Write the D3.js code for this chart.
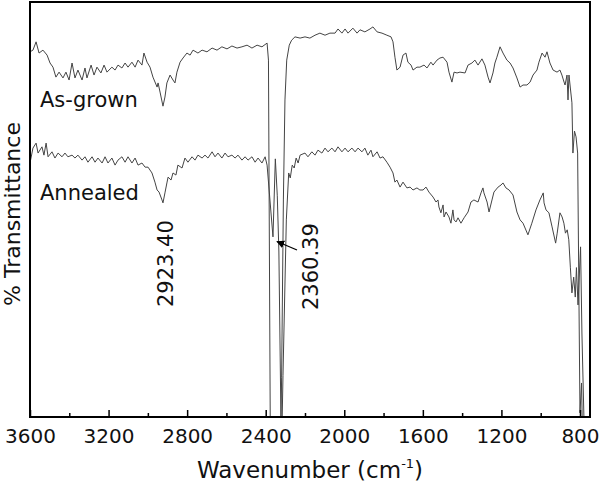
<!DOCTYPE html>
<html>
<head>
<meta charset="utf-8">
<script src="https://cdn.jsdelivr.net/npm/d3@7"></script>
<style>
  html, body { margin: 0; padding: 0; background: #fff; }
  svg { display: block; font-family: "DejaVu Sans", Verdana, sans-serif; }
</style>
</head>
<body>
<svg id="chart" width="600" height="485"></svg>
<script>
// ---------- data (wavenumber in cm^-1, % transmittance in arbitrary offset units) ----------
const asGrownWn = [3600,3585,3569,3554,3534,3513,3498,3483,3468,3452,3432,3417,3401,3386,3371,3356,3335,3320,3310,3289,3274,3259,3239,3223,3208,3183,3167,3152,3132,3116,3101,3081,3065,3050,3030,3020,3004,2989,2974,2953,2948,2938,2923,2913,2903,2887,2872,2862,2852,2836,2821,2801,2785,2770,2745,2724,2699,2673,2648,2623,2597,2572,2546,2521,2495,2470,2444,2419,2393,2386,2376,2350,2325,2319,2310,2302,2293,2280,2268,2251,2225,2200,2175,2149,2124,2098,2073,2047,2032,2012,1996,1981,1956,1935,1920,1895,1869,1854,1833,1808,1783,1762,1752,1742,1732,1716,1701,1686,1676,1660,1650,1630,1615,1594,1579,1559,1548,1528,1513,1497,1477,1467,1452,1441,1426,1411,1385,1370,1350,1335,1319,1299,1284,1268,1258,1243,1233,1223,1207,1192,1172,1156,1141,1121,1105,1090,1070,1054,1039,1019,1009,993,978,968,953,937,917,902,892,881,876,866,861,856,841,836,828,820,812,800,792,785,749];
const asGrownT = [88.0,88.4,90.4,87.7,88.4,87.2,85.3,84.3,81.9,83.1,81.7,83.1,81.2,85.3,81.7,83.6,81.2,84.1,81.7,84.8,82.4,84.3,82.9,84.8,83.1,84.3,83.6,84.8,84.1,85.3,84.3,85.5,84.3,86.0,84.8,87.7,85.5,84.3,81.9,79.5,80.5,78.3,74.9,77.1,80.5,82.4,81.2,80.5,83.1,85.5,86.5,87.7,87.2,88.4,87.7,88.4,88.0,88.9,88.4,89.2,88.7,89.4,88.9,89.2,89.6,88.9,89.6,89.2,90.1,86.0,-10,-30,-10,9.6,52.3,76.4,86.0,89.6,90.8,91.6,91.3,91.6,91.3,92.0,92.5,92.0,92.5,92.5,93.5,92.5,93.5,92.5,93.7,92.5,93.3,92.8,93.5,94.0,92.8,92.5,92.0,91.6,90.4,86.7,83.6,84.3,87.2,87.7,85.5,84.8,83.6,84.3,84.3,84.8,84.1,85.5,84.8,86.0,86.5,86.7,85.5,83.1,80.7,83.1,82.9,83.1,82.9,84.8,85.3,86.0,84.8,86.3,84.8,81.9,80.5,82.9,85.3,86.7,89.2,87.7,86.0,85.3,84.1,81.7,79.5,80.0,80.0,80.7,82.4,83.6,85.5,87.7,86.7,88.0,85.3,83.6,83.1,83.6,82.4,80.7,80.0,82.4,76.4,82.4,75.7,63.6,68.9,67.5,63.6,1.0,8.2,-10,-30];

const annealedWn = [3600,3585,3569,3559,3539,3529,3518,3508,3488,3473,3457,3437,3422,3407,3386,3371,3356,3335,3320,3305,3284,3269,3254,3233,3218,3203,3183,3167,3152,3132,3116,3101,3081,3065,3050,3030,3014,2999,2979,2964,2953,2943,2928,2923,2913,2903,2897,2882,2872,2857,2847,2826,2811,2796,2775,2760,2745,2724,2709,2694,2673,2658,2643,2623,2607,2592,2572,2556,2541,2521,2505,2490,2470,2454,2439,2419,2403,2393,2363,2351,2341,2333,2320,2312,2295,2283,2275,2265,2255,2245,2235,2225,2200,2185,2165,2149,2134,2114,2098,2083,2063,2047,2032,2012,1996,1981,1961,1945,1930,1910,1895,1880,1864,1854,1833,1818,1803,1783,1767,1752,1742,1732,1716,1701,1681,1665,1650,1630,1615,1599,1584,1569,1548,1533,1523,1518,1508,1497,1492,1482,1467,1457,1447,1441,1431,1421,1406,1390,1370,1355,1340,1319,1304,1294,1289,1273,1263,1248,1238,1217,1202,1192,1177,1161,1141,1121,1105,1090,1065,1045,1024,1004,987,983,973,958,942,924,916,902,891,882,874,865,857,849,841,832,824,818,810,797,790,780,770,749];
const annealedT = [61.2,64.8,66.0,63.6,65.1,63.1,66.0,62.7,63.9,62.4,63.6,62.7,63.6,62.7,63.1,62.4,63.1,61.9,62.7,61.4,62.7,61.4,62.4,61.2,62.7,61.2,62.4,60.7,61.9,62.7,61.4,62.7,61.2,62.4,60.7,61.2,60.2,60.2,58.8,56.6,54.7,54.2,52.3,51.6,54.0,56.4,57.8,57.1,58.8,58.3,60.7,60.0,62.4,61.4,62.7,61.9,63.1,62.4,63.1,62.4,63.9,62.7,63.6,62.4,63.6,62.7,63.1,62.4,63.1,61.9,62.7,61.9,62.7,61.4,62.4,61.2,62.7,60.7,43.4,62.2,53.3,40.0,-10,10.0,47.5,58.8,57.6,60.7,60.0,62.4,61.2,63.1,63.6,62.7,63.9,63.1,64.3,63.6,64.8,63.9,64.8,63.9,65.1,63.9,64.8,63.9,64.8,63.9,64.8,63.9,64.8,63.1,64.3,62.7,63.9,62.4,62.7,61.4,60.2,58.8,56.6,57.1,55.4,56.6,55.2,55.4,54.7,55.2,54.7,54.7,55.4,54.2,53.0,51.8,52.3,50.6,49.2,51.1,48.2,49.4,48.2,46.7,49.9,47.5,47.0,48.0,46.7,48.0,49.4,51.8,52.3,51.8,54.0,55.2,54.0,51.8,49.4,52.3,54.2,55.4,55.9,56.4,55.2,54.7,53.5,49.4,47.5,46.7,43.9,46.7,49.9,52.3,54.0,51.6,49.9,49.2,45.8,41.9,44.3,49.2,48.2,46.7,44.3,45.1,42.7,36.1,29.9,33.7,28.9,36.0,27.0,41.0,20.0,0,-20,-40];

const xTicks = [3600, 3200, 2800, 2400, 2000, 1600, 1200, 800];
const xMinorTicks = [3400, 3000, 2600, 2200, 1800, 1400, 1000];
const seriesLabels = ["As-grown", "Annealed"];
const peakLabels = ["2923.40", "2360.39"];

// ---------- layout ----------
const svg = d3.select("#chart");
const L = 30, R = 590, T = 2, B = 417;

const x = d3.scaleLinear().domain([3600, 749]).range([L, R]);
const y = d3.scaleLinear().domain([0, 100]).range([B, T]);

svg.append("defs").append("clipPath").attr("id", "plotClip")
  .append("rect").attr("x", L).attr("y", T).attr("width", R - L).attr("height", B - T);

const line = d3.line().x(d => x(d[0])).y(d => y(d[1]));

const gLines = svg.append("g").attr("clip-path", "url(#plotClip)");
[[asGrownWn, asGrownT], [annealedWn, annealedT]].forEach(([wn, t]) => {
  gLines.append("path")
    .datum(wn.map((w, i) => [w, t[i]]))
    .attr("d", line)
    .attr("fill", "none")
    .attr("stroke", "#444")
    .attr("stroke-width", 1)
    .attr("stroke-linejoin", "round");
});

// bottom axis (ticks inward)
const axisG = svg.append("g").attr("transform", `translate(0,${B})`)
  .call(d3.axisBottom(x).tickValues(xTicks).tickSize(-7).tickPadding(12).tickFormat(d3.format("d")));
axisG.select(".domain").remove();
axisG.selectAll(".tick line").attr("stroke", "#000").attr("stroke-width", 1.5);
axisG.selectAll(".tick text").attr("font-size", 20).attr("fill", "#111")
  .attr("font-family", "DejaVu Sans, Verdana, sans-serif");

const minorG = svg.append("g").attr("transform", `translate(0,${B})`)
  .call(d3.axisBottom(x).tickValues(xMinorTicks).tickSize(-4).tickFormat(""));
minorG.select(".domain").remove();
minorG.selectAll(".tick line").attr("stroke", "#000").attr("stroke-width", 1.5);

// frame
svg.append("rect").attr("x", L).attr("y", T).attr("width", R - L).attr("height", B - T)
  .attr("fill", "none").attr("stroke", "#000").attr("stroke-width", 2);

// axis titles
const xt = svg.append("text").attr("x", (L + R) / 2).attr("y", 478)
  .attr("text-anchor", "middle").attr("font-size", 23).attr("fill", "#111");
xt.append("tspan").text("Wavenumber (cm");
xt.append("tspan").attr("font-size", 13).attr("dy", -10).text("-1");
xt.append("tspan").attr("dy", 10).text(")");

svg.append("text").attr("transform", "translate(20,214) rotate(-90)")
  .attr("text-anchor", "middle").attr("font-size", 22).attr("fill", "#111")
  .text("% Transmittance");

// series labels
svg.append("text").attr("x", 40).attr("y", 107).attr("font-size", 21).attr("fill", "#111").text(seriesLabels[0]);
svg.append("text").attr("x", 40).attr("y", 200).attr("font-size", 21).attr("fill", "#111").text(seriesLabels[1]);

// peak labels (rotated)
svg.append("text").attr("transform", "translate(173,307) rotate(-90)")
  .attr("font-size", 21).attr("fill", "#111").text(peakLabels[0]);
svg.append("text").attr("transform", "translate(318,310) rotate(-90)")
  .attr("font-size", 21).attr("fill", "#111").text(peakLabels[1]);

// arrow
svg.select("defs").append("marker").attr("id", "arrowHead")
  .attr("viewBox", "0 0 10 10").attr("refX", 9).attr("refY", 5)
  .attr("markerWidth", 8).attr("markerHeight", 8).attr("markerUnits", "userSpaceOnUse")
  .attr("orient", "auto")
  .append("path").attr("d", "M0,0 L10,5 L0,10 z").attr("fill", "#000");
svg.append("line").attr("x1", 297).attr("y1", 250).attr("x2", 277).attr("y2", 241.5)
  .attr("stroke", "#000").attr("stroke-width", 1.3).attr("marker-end", "url(#arrowHead)");
</script>
</body>
</html>
